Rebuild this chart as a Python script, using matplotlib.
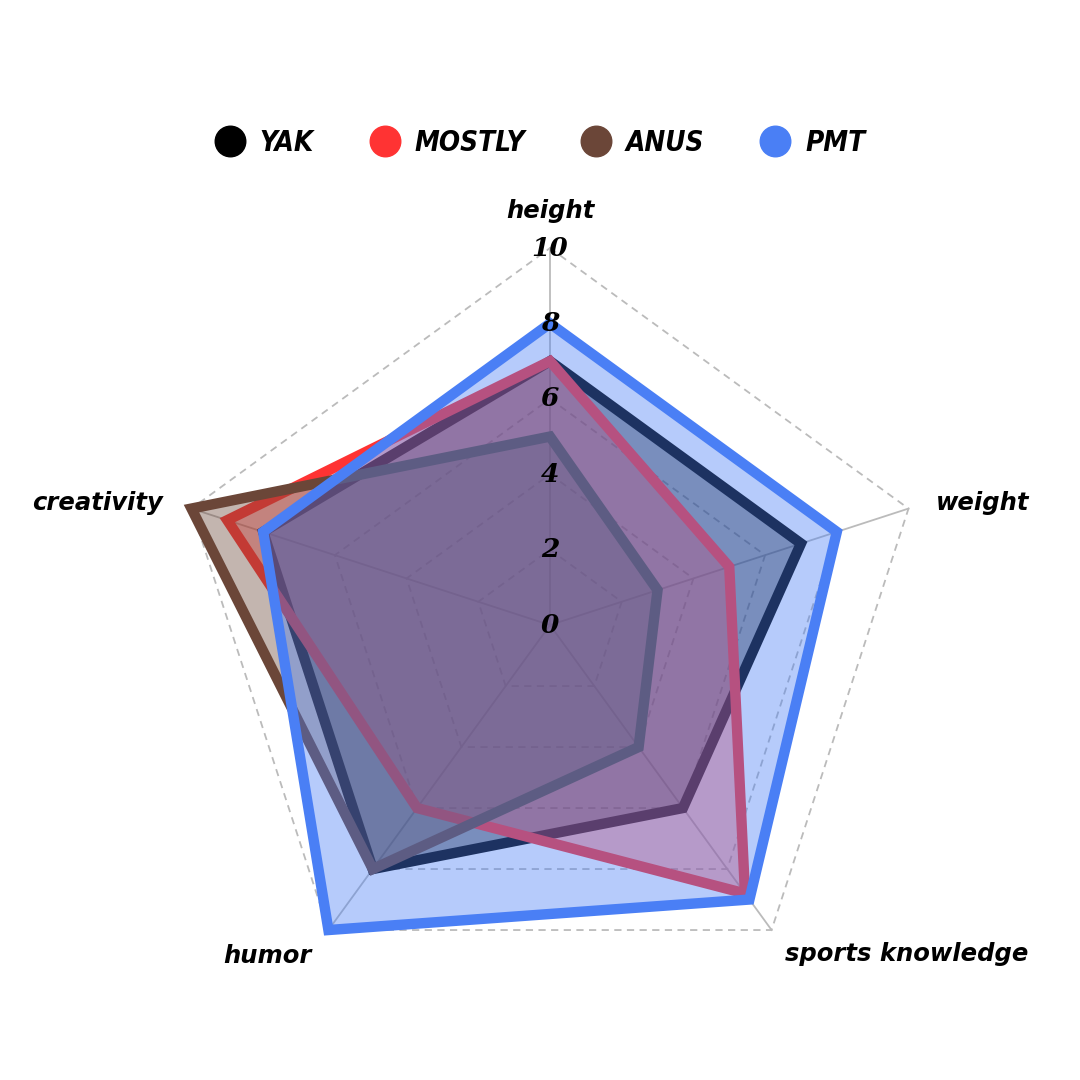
import numpy as np
import matplotlib
matplotlib.use("Agg")
import matplotlib.pyplot as plt
from matplotlib.lines import Line2D

categories = ["height", "weight", "sports knowledge", "humor", "creativity"]
series_names = ["YAK", "MOSTLY", "ANUS", "PMT"]
yak = [7, 7, 6, 8, 8]
mostly = [7, 5, 8.8, 6, 9]
anus = [5, 3, 4, 8, 10]
pmt = [8, 8, 9, 10, 8]
tick_values = [0, 2, 4, 6, 8, 10]

colors = ["#000000", "#ff3333", "#6b4638", "#4a7ff5"]
series = [yak, mostly, anus, pmt]

label_font = dict(family=["DejaVu Sans"], weight="bold", style="italic", size=17.5)
tick_font = dict(family=["DejaVu Serif"], weight="bold", style="italic", size=19)
legend_font = dict(family=["DejaVu Sans"], weight="bold", style="italic",
                   stretch="condensed", size=20)

fig = plt.figure(figsize=(10.8, 10.8), dpi=100)
fig.patch.set_facecolor("white")
ax = fig.add_axes([0.1602, 0.0722, 0.6981, 0.6981], projection="polar")
ax.set_theta_offset(np.pi / 2)
ax.set_theta_direction(-1)
ax.set_ylim(0, 10)
ax.grid(False)
ax.set_xticks([])
ax.set_yticks([])
ax.spines["polar"].set_visible(False)
ax.set_facecolor("none")

n = len(categories)
angles = np.linspace(0, 2 * np.pi, n, endpoint=False)
closed = np.concatenate([angles, angles[:1]])

grid_color = "#bbbbbb"
for lvl in tick_values[1:]:
    ln, = ax.plot(closed, [lvl] * (n + 1), color=grid_color, lw=1.3,
                  ls=(0, (4, 3)), zorder=1)
    ln.set_clip_on(False)
for a in angles:
    ln, = ax.plot([a, a], [0, tick_values[-1]], color=grid_color, lw=1.3, zorder=1)
    ln.set_clip_on(False)

for vals, col in zip(series, colors):
    patches = ax.fill(angles, vals, facecolor=matplotlib.colors.to_rgba(col, 0.4),
                      edgecolor=col, lw=7.5, joinstyle="miter", zorder=2)
    for p in patches:
        p.set_clip_on(False)

for t in tick_values:
    ax.text(0, t, str(t), ha="center", va="center", zorder=5, **tick_font)

offsets = [(0, 27, "center", "center"),
           (19.4, 4.3, "left", "center"),
           (9.4, -17.3, "left", "center"),
           (-12.2, -19, "right", "center"),
           (-20.9, 4.3, "right", "center")]
for a, cat, (dx, dy, ha, va) in zip(angles, categories, offsets):
    ax.annotate(cat, xy=(a, 10), xytext=(dx, dy), textcoords="offset points",
                ha=ha, va=va, annotation_clip=False, **label_font)

handles = [Line2D([0], [0], marker="o", ls="none", markersize=22,
                  markerfacecolor=c, markeredgecolor=c) for c in colors]
leg = fig.legend(handles, series_names, loc="center", bbox_to_anchor=(0.5, 0.868),
                 ncol=4, frameon=False, handlelength=1.08, handletextpad=0.54,
                 columnspacing=2.0, prop=legend_font)

fig.savefig("out.png", dpi=100, facecolor="white")
